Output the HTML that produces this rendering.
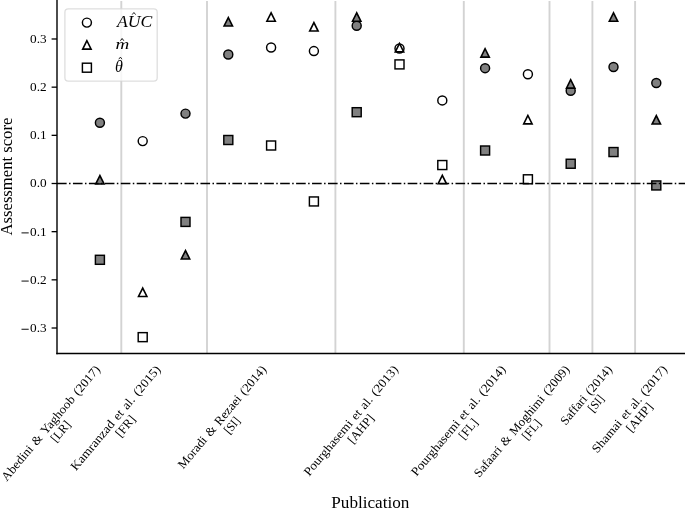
<!DOCTYPE html><html><head><meta charset="utf-8"><style>html,body{margin:0;padding:0;background:#fff;}svg{display:block;filter:grayscale(1);} text{font-family:"Liberation Serif",serif;fill:#000;}</style></head><body>
<svg width="685" height="509" viewBox="0 0 685 509">
<rect width="685" height="509" fill="#fff"/>
<line x1="121.30" y1="1" x2="121.30" y2="353.5" stroke="#d3d3d3" stroke-width="1.9"/>
<line x1="207.00" y1="1" x2="207.00" y2="353.5" stroke="#d3d3d3" stroke-width="1.9"/>
<line x1="335.40" y1="1" x2="335.40" y2="353.5" stroke="#d3d3d3" stroke-width="1.9"/>
<line x1="463.80" y1="1" x2="463.80" y2="353.5" stroke="#d3d3d3" stroke-width="1.9"/>
<line x1="549.50" y1="1" x2="549.50" y2="353.5" stroke="#d3d3d3" stroke-width="1.9"/>
<line x1="592.40" y1="1" x2="592.40" y2="353.5" stroke="#d3d3d3" stroke-width="1.9"/>
<line x1="635.10" y1="1" x2="635.10" y2="353.5" stroke="#d3d3d3" stroke-width="1.9"/>
<circle cx="99.90" cy="122.70" r="4.50" fill="#808080" stroke="#000" stroke-width="1.45"/>
<circle cx="142.70" cy="141.10" r="4.50" fill="#ffffff" stroke="#000" stroke-width="1.45"/>
<circle cx="185.50" cy="113.60" r="4.50" fill="#808080" stroke="#000" stroke-width="1.45"/>
<circle cx="228.30" cy="54.45" r="4.50" fill="#808080" stroke="#000" stroke-width="1.45"/>
<circle cx="271.10" cy="47.50" r="4.50" fill="#ffffff" stroke="#000" stroke-width="1.45"/>
<circle cx="313.90" cy="51.07" r="4.50" fill="#ffffff" stroke="#000" stroke-width="1.45"/>
<circle cx="356.70" cy="25.74" r="4.50" fill="#808080" stroke="#000" stroke-width="1.45"/>
<circle cx="399.50" cy="48.45" r="4.50" fill="#ffffff" stroke="#000" stroke-width="1.45"/>
<circle cx="442.30" cy="100.40" r="4.50" fill="#ffffff" stroke="#000" stroke-width="1.45"/>
<circle cx="485.10" cy="68.17" r="4.50" fill="#808080" stroke="#000" stroke-width="1.45"/>
<circle cx="527.90" cy="74.24" r="4.50" fill="#ffffff" stroke="#000" stroke-width="1.45"/>
<circle cx="570.70" cy="90.70" r="4.50" fill="#808080" stroke="#000" stroke-width="1.45"/>
<circle cx="613.50" cy="67.05" r="4.50" fill="#808080" stroke="#000" stroke-width="1.45"/>
<circle cx="656.30" cy="82.97" r="4.50" fill="#808080" stroke="#000" stroke-width="1.45"/>
<path d="M99.90,175.53 L95.70,183.93 L104.10,183.93 Z" fill="#808080" stroke="#000" stroke-width="1.6" stroke-linejoin="miter"/>
<path d="M142.70,288.03 L138.50,296.43 L146.90,296.43 Z" fill="#ffffff" stroke="#000" stroke-width="1.6" stroke-linejoin="miter"/>
<path d="M185.50,250.53 L181.30,258.93 L189.70,258.93 Z" fill="#808080" stroke="#000" stroke-width="1.6" stroke-linejoin="miter"/>
<path d="M228.30,17.53 L224.10,25.93 L232.50,25.93 Z" fill="#808080" stroke="#000" stroke-width="1.6" stroke-linejoin="miter"/>
<path d="M271.10,12.83 L266.90,21.23 L275.30,21.23 Z" fill="#ffffff" stroke="#000" stroke-width="1.6" stroke-linejoin="miter"/>
<path d="M313.90,22.63 L309.70,31.03 L318.10,31.03 Z" fill="#ffffff" stroke="#000" stroke-width="1.6" stroke-linejoin="miter"/>
<path d="M356.70,12.83 L352.50,21.23 L360.90,21.23 Z" fill="#808080" stroke="#000" stroke-width="1.6" stroke-linejoin="miter"/>
<path d="M399.50,43.43 L395.30,51.83 L403.70,51.83 Z" fill="#ffffff" stroke="#000" stroke-width="1.6" stroke-linejoin="miter"/>
<path d="M442.30,175.38 L438.10,183.78 L446.50,183.78 Z" fill="#ffffff" stroke="#000" stroke-width="1.6" stroke-linejoin="miter"/>
<path d="M485.10,48.73 L480.90,57.13 L489.30,57.13 Z" fill="#808080" stroke="#000" stroke-width="1.6" stroke-linejoin="miter"/>
<path d="M527.90,115.48 L523.70,123.88 L532.10,123.88 Z" fill="#ffffff" stroke="#000" stroke-width="1.6" stroke-linejoin="miter"/>
<path d="M570.70,79.73 L566.50,88.13 L574.90,88.13 Z" fill="#808080" stroke="#000" stroke-width="1.6" stroke-linejoin="miter"/>
<path d="M613.50,12.83 L609.30,21.23 L617.70,21.23 Z" fill="#808080" stroke="#000" stroke-width="1.6" stroke-linejoin="miter"/>
<path d="M656.30,115.63 L652.10,124.03 L660.50,124.03 Z" fill="#808080" stroke="#000" stroke-width="1.6" stroke-linejoin="miter"/>
<rect x="95.40" y="255.30" width="9.00" height="9.00" fill="#808080" stroke="#000" stroke-width="1.45" stroke-linejoin="miter"/>
<rect x="138.20" y="332.65" width="9.00" height="9.00" fill="#ffffff" stroke="#000" stroke-width="1.45" stroke-linejoin="miter"/>
<rect x="181.00" y="217.40" width="9.00" height="9.00" fill="#808080" stroke="#000" stroke-width="1.45" stroke-linejoin="miter"/>
<rect x="223.80" y="135.50" width="9.00" height="9.00" fill="#808080" stroke="#000" stroke-width="1.45" stroke-linejoin="miter"/>
<rect x="266.60" y="141.00" width="9.00" height="9.00" fill="#ffffff" stroke="#000" stroke-width="1.45" stroke-linejoin="miter"/>
<rect x="309.40" y="196.95" width="9.00" height="9.00" fill="#ffffff" stroke="#000" stroke-width="1.45" stroke-linejoin="miter"/>
<rect x="352.20" y="107.70" width="9.00" height="9.00" fill="#808080" stroke="#000" stroke-width="1.45" stroke-linejoin="miter"/>
<rect x="395.00" y="59.90" width="9.00" height="9.00" fill="#ffffff" stroke="#000" stroke-width="1.45" stroke-linejoin="miter"/>
<rect x="437.80" y="160.55" width="9.00" height="9.00" fill="#ffffff" stroke="#000" stroke-width="1.45" stroke-linejoin="miter"/>
<rect x="480.60" y="146.00" width="9.00" height="9.00" fill="#808080" stroke="#000" stroke-width="1.45" stroke-linejoin="miter"/>
<rect x="523.40" y="174.80" width="9.00" height="9.00" fill="#ffffff" stroke="#000" stroke-width="1.45" stroke-linejoin="miter"/>
<rect x="566.20" y="159.25" width="9.00" height="9.00" fill="#808080" stroke="#000" stroke-width="1.45" stroke-linejoin="miter"/>
<rect x="609.00" y="147.55" width="9.00" height="9.00" fill="#808080" stroke="#000" stroke-width="1.45" stroke-linejoin="miter"/>
<rect x="651.80" y="180.95" width="9.00" height="9.00" fill="#808080" stroke="#000" stroke-width="1.45" stroke-linejoin="miter"/>
<line x1="57.00" y1="183.5" x2="685" y2="183.5" stroke="#000" stroke-width="1.5" stroke-dasharray="9.63 2.40 1.51 2.40"/>
<line x1="57.0" y1="0" x2="57.0" y2="354.2" stroke="#000" stroke-width="1.4"/>
<line x1="56.3" y1="353.5" x2="685" y2="353.5" stroke="#000" stroke-width="1.3"/>
<line x1="51.6" y1="38.99" x2="57.0" y2="38.99" stroke="#000" stroke-width="1.3"/>
<text x="46.6" y="42.89" font-size="11.6" text-anchor="end" textLength="16.6" lengthAdjust="spacingAndGlyphs">0.3</text>
<line x1="51.6" y1="87.16" x2="57.0" y2="87.16" stroke="#000" stroke-width="1.3"/>
<text x="46.6" y="91.06" font-size="11.6" text-anchor="end" textLength="16.6" lengthAdjust="spacingAndGlyphs">0.2</text>
<line x1="51.6" y1="135.33" x2="57.0" y2="135.33" stroke="#000" stroke-width="1.3"/>
<text x="46.6" y="139.23" font-size="11.6" text-anchor="end" textLength="16.6" lengthAdjust="spacingAndGlyphs">0.1</text>
<line x1="51.6" y1="183.50" x2="57.0" y2="183.50" stroke="#000" stroke-width="1.3"/>
<text x="46.6" y="187.40" font-size="11.6" text-anchor="end" textLength="16.6" lengthAdjust="spacingAndGlyphs">0.0</text>
<line x1="51.6" y1="231.67" x2="57.0" y2="231.67" stroke="#000" stroke-width="1.3"/>
<text x="46.6" y="235.57" font-size="11.6" text-anchor="end" textLength="16.6" lengthAdjust="spacingAndGlyphs">0.1</text>
<rect x="21.5" y="232.42" width="7.2" height="0.95" fill="#000"/>
<line x1="51.6" y1="279.84" x2="57.0" y2="279.84" stroke="#000" stroke-width="1.3"/>
<text x="46.6" y="283.74" font-size="11.6" text-anchor="end" textLength="16.6" lengthAdjust="spacingAndGlyphs">0.2</text>
<rect x="21.5" y="280.59" width="7.2" height="0.95" fill="#000"/>
<line x1="51.6" y1="328.01" x2="57.0" y2="328.01" stroke="#000" stroke-width="1.3"/>
<text x="46.6" y="331.91" font-size="11.6" text-anchor="end" textLength="16.6" lengthAdjust="spacingAndGlyphs">0.3</text>
<rect x="21.5" y="328.76" width="7.2" height="0.95" fill="#000"/>
<text transform="translate(12.0,176.55) rotate(-90)" font-size="16.2" text-anchor="middle" textLength="117.8" lengthAdjust="spacingAndGlyphs">Assessment score</text>
<text x="370.35" y="507.5" font-size="15.8" text-anchor="middle" textLength="78.2" lengthAdjust="spacingAndGlyphs">Publication</text>
<text transform="translate(53.82,425.72) rotate(-50.0)" font-size="12.35" word-spacing="1.1" text-anchor="middle" textLength="146.16" lengthAdjust="spacingAndGlyphs">Abedini &amp; Yaghoob (2017)</text>
<text transform="translate(63.70,434.01) rotate(-50.0)" font-size="12.35" text-anchor="middle" textLength="23.67" lengthAdjust="spacingAndGlyphs">[LR]</text>
<text transform="translate(118.66,420.47) rotate(-50.0)" font-size="12.35" word-spacing="1.1" text-anchor="middle" textLength="132.45" lengthAdjust="spacingAndGlyphs">Kamranzad et al. (2015)</text>
<text transform="translate(128.54,428.76) rotate(-50.0)" font-size="12.35" text-anchor="middle" textLength="24.02" lengthAdjust="spacingAndGlyphs">[FR]</text>
<text transform="translate(225.13,419.61) rotate(-50.0)" font-size="12.35" word-spacing="1.1" text-anchor="middle" textLength="130.22" lengthAdjust="spacingAndGlyphs">Moradi &amp; Rezaei (2014)</text>
<text transform="translate(235.01,427.90) rotate(-50.0)" font-size="12.35" text-anchor="middle" textLength="18.19" lengthAdjust="spacingAndGlyphs">[SI]</text>
<text transform="translate(353.98,423.19) rotate(-50.0)" font-size="12.35" word-spacing="1.1" text-anchor="middle" textLength="139.56" lengthAdjust="spacingAndGlyphs">Pourghasemi et al. (2013)</text>
<text transform="translate(363.86,431.48) rotate(-50.0)" font-size="12.35" text-anchor="middle" textLength="33.80" lengthAdjust="spacingAndGlyphs">[AHP]</text>
<text transform="translate(461.38,423.19) rotate(-50.0)" font-size="12.35" word-spacing="1.1" text-anchor="middle" textLength="139.56" lengthAdjust="spacingAndGlyphs">Pourghasemi et al. (2014)</text>
<text transform="translate(471.26,431.48) rotate(-50.0)" font-size="12.35" text-anchor="middle" textLength="22.65" lengthAdjust="spacingAndGlyphs">[FL]</text>
<text transform="translate(524.73,423.89) rotate(-50.0)" font-size="12.35" word-spacing="1.1" text-anchor="middle" textLength="141.40" lengthAdjust="spacingAndGlyphs">Safaari &amp; Moghimi (2009)</text>
<text transform="translate(534.62,432.19) rotate(-50.0)" font-size="12.35" text-anchor="middle" textLength="22.65" lengthAdjust="spacingAndGlyphs">[FL]</text>
<text transform="translate(589.13,397.74) rotate(-50.0)" font-size="12.35" word-spacing="1.1" text-anchor="middle" textLength="73.11" lengthAdjust="spacingAndGlyphs">Saffari (2014)</text>
<text transform="translate(599.01,406.03) rotate(-50.0)" font-size="12.35" text-anchor="middle" textLength="18.19" lengthAdjust="spacingAndGlyphs">[SI]</text>
<text transform="translate(632.60,411.78) rotate(-50.0)" font-size="12.35" word-spacing="1.1" text-anchor="middle" textLength="109.78" lengthAdjust="spacingAndGlyphs">Shamai et al. (2017)</text>
<text transform="translate(642.48,420.08) rotate(-50.0)" font-size="12.35" text-anchor="middle" textLength="33.80" lengthAdjust="spacingAndGlyphs">[AHP]</text>
<rect x="64.9" y="8.8" width="92.3" height="72.3" rx="3.4" ry="3.4" fill="#fff" fill-opacity="0.8" stroke="#d6d6d6" stroke-opacity="0.8" stroke-width="1.3"/>
<circle cx="86.90" cy="22.60" r="4.50" fill="#ffffff" stroke="#000" stroke-width="1.45"/>
<path d="M86.90,40.68 L82.70,49.08 L91.10,49.08 Z" fill="#ffffff" stroke="#000" stroke-width="1.6" stroke-linejoin="miter"/>
<rect x="82.40" y="63.20" width="9.00" height="9.00" fill="#ffffff" stroke="#000" stroke-width="1.45" stroke-linejoin="miter"/>
<text x="117.0" y="26.9" font-size="16" font-style="italic" textLength="35.2" lengthAdjust="spacingAndGlyphs">AUC</text>
<text x="115.6" y="48.9" font-size="14.4" font-style="italic" textLength="13.8" lengthAdjust="spacingAndGlyphs">m</text>
<text x="115.0" y="71.7" font-size="16" font-style="italic">θ</text>
<path d="M132.2,14.6 L133.9,12.5 L135.6,14.6" fill="none" stroke="#000" stroke-width="0.85"/>
<path d="M120.4,40.7 L122.1,38.5 L123.8,40.7" fill="none" stroke="#000" stroke-width="0.95"/>
<path d="M118.8,59.2 L120.4,57.1 L122.0,59.2" fill="none" stroke="#000" stroke-width="0.85"/>
</svg></body></html>
